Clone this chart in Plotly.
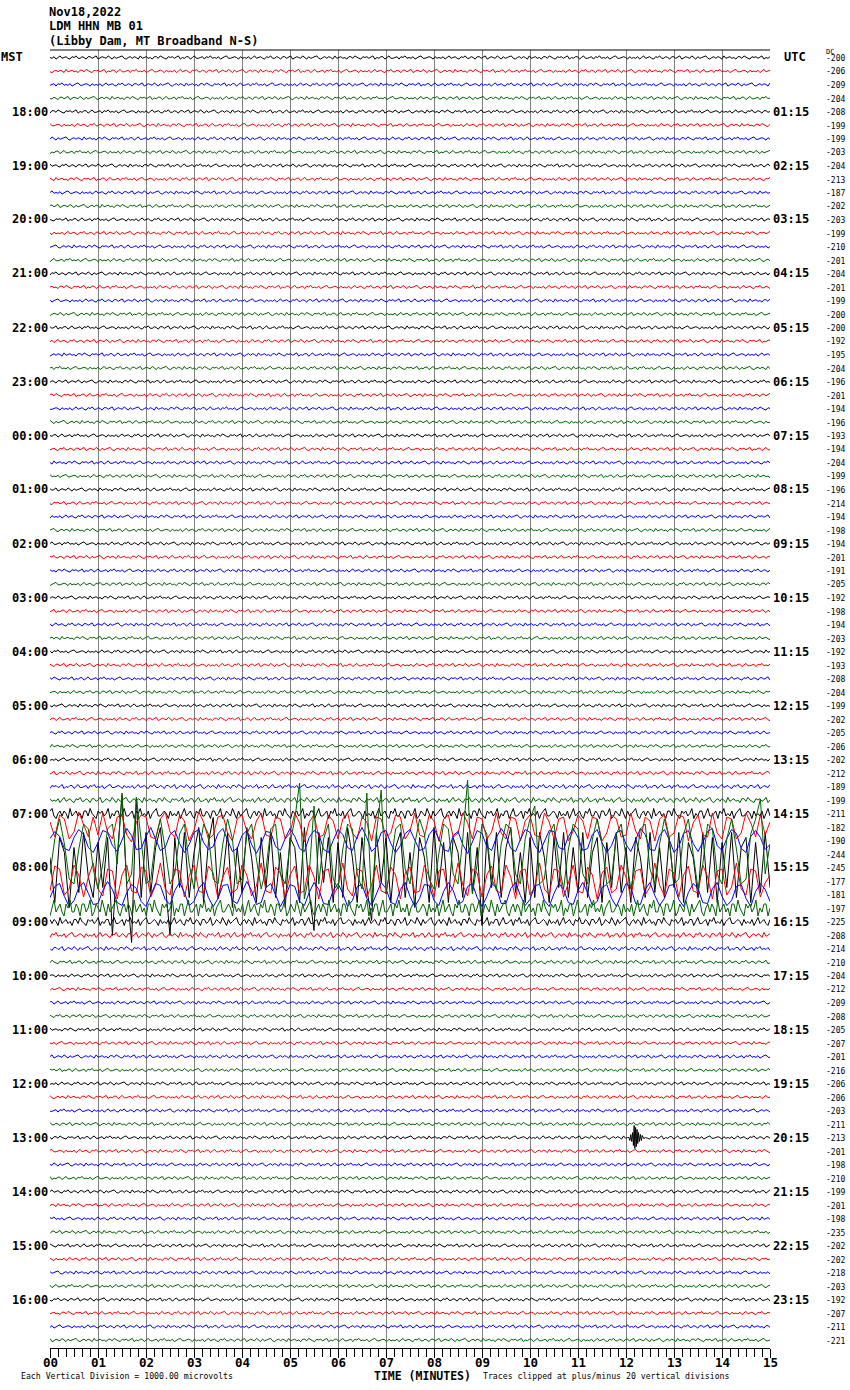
import plotly.graph_objects as go

DATE = "Nov18,2022"
STATION = "LDM HHN MB 01"
SITE = "(Libby Dam, MT Broadband N-S)"
MST_LABELS = ["18:00", "19:00", "20:00", "21:00", "22:00", "23:00", "00:00", "01:00",
              "02:00", "03:00", "04:00", "05:00", "06:00", "07:00", "08:00", "09:00",
              "10:00", "11:00", "12:00", "13:00", "14:00", "15:00", "16:00"]
UTC_LABELS = ["01:15", "02:15", "03:15", "04:15", "05:15", "06:15", "07:15", "08:15",
              "09:15", "10:15", "11:15", "12:15", "13:15", "14:15", "15:15", "16:15",
              "17:15", "18:15", "19:15", "20:15", "21:15", "22:15", "23:15"]
DC_OFFSETS = [-200, -206, -209, -204, -208, -199, -199, -203, -204, -213, -187, -202,
              -203, -199, -210, -201, -204, -201, -199, -200, -200, -192, -195, -204,
              -196, -201, -194, -196, -193, -194, -204, -199, -196, -214, -194, -198,
              -194, -201, -191, -205, -192, -198, -194, -203, -192, -193, -208, -204,
              -199, -202, -205, -206, -202, -212, -189, -199, -211, -182, -190, -244,
              -245, -177, -181, -197, -225, -208, -214, -210, -204, -212, -209, -208,
              -205, -207, -201, -216, -206, -206, -203, -211, -213, -201, -198, -210,
              -199, -201, -198, -235, -202, -202, -218, -203, -192, -207, -211, -221]
MINUTE_LABELS = ["00", "01", "02", "03", "04", "05", "06", "07", "08", "09", "10",
                 "11", "12", "13", "14", "15"]
TRACE_COLORS = ["#000000", "#ff0000", "#0000ff", "#006400"]

NOISE_PATTERN = [0, 1, -1, 2, 0, -2, 1, 0, -1, 1, 2, -1, 0, -2, 1, 1, -1, 0, 2, -1,
                 -1, 1, 0, -2, 2, 1, -1, 0, 1, -2, 0, 2, -1, 1, 0, -1, -2, 1, 2, 0,
                 -1, 1, -1, 0, 2, -2, 1, 0, -1, 1, 0, 2, -1, -1, 1, -2, 0, 1, 2, -1,
                 0, -1, 1, 0, -2, 2, 0, 1, -1, -1, 2, 0, -2, 1, 1, 0, -1, 2, -1, 0,
                 -2, 1, 0, 1, -1, 2, 0, -1, -2, 1, 1, 0, -1, 0, 2, -1, 1]
NOISE_SCALE = [0.8] * 52 + [0.8, 0.9, 1.0, 1.3, 2.5, 1.0, 1.0, 1.0,
                            1.0, 1.0, 1.0, 4.0, 2.0, 1.3, 1.0, 0.9] + [0.8] * 28

# teleseism (07:15 - 08:30 rows), one value every 0.1 minute, pixels, up positive
EVT_STEP = 0.1
EVT_RED_0715 = [5, -10, 12, 8, -12, -5, 15, 3, -10, 10,
                -8, 14, -5, -12, 10, 12, -8, -15, 5, 12,
                10, -10, -12, 8, 15, -5, -10, 12, 6, -14,
                -3, 15, 5, -12, -8, 10, 12, -6, -14, 8,
                12, -4, -12, 6, 14, -8, -10, 10, 8, -12,
                -6, 14, 4, -15, 5, 12, -10, -8, 12, 6,
                -12, 8, 14, -6, -12, 10, 5, -14, 10, 8,
                -10, -6, 12, 10, -12, -4, 14, -8, -10, 12,
                6, -14, 8, 12, -10, -6, 14, 4, -12, 10,
                8, -12, -5, 14, -6, -12, 10, 8, -14, 6,
                12, -8, -10, 14, 5, -12, 8, 10, -14, -4,
                12, 6, -12, 10, 8, -14, -6, 12, 8, -10,
                -8, 14, -4, -12, 10, 6, -14, 8, 12, -10,
                -6, 12, 10, -14, 4, 12, -8, -10, 14, -6,
                -12, 10, 8, -12, -6, 14, 4, -10, 12, -8, 5]
EVT_BLUE_0730 = [2, 9, 4, -8, -10, 3, 11, 6, -7, -12,
                 -2, 10, 8, -5, -11, 0, 12, 5, -9, -8,
                 4, 13, 2, -10, -7, 6, 10, -3, -12, -4,
                 8, 11, -2, -9, -6, 7, 12, 1, -11, -8,
                 5, 10, -4, -13, -3, 9, 8, -6, -10, 2,
                 12, 4, -8, -11, 3, 10, 7, -9, -12, 0,
                 11, 6, -7, -10, 4, 13, 3, -11, -6, 8,
                 10, -3, -12, -5, 7, 11, 0, -10, -8, 6,
                 12, 2, -9, -11, 5, 9, -4, -13, -2, 10,
                 7, -6, -10, 3, 12, 5, -8, -11, 1, 11,
                 8, -5, -12, -1, 10, 9, -7, -9, 4, 12,
                 3, -10, -8, 6, 11, -2, -12, -5, 8, 10,
                 -4, -11, 0, 12, 6, -9, -10, 5, 11, 1,
                 -12, -6, 7, 10, -3, -11, -2, 9, 12, -5,
                 -10, 2, 11, 7, -8, -12, 4, 10, 3, -9, -4]
EVT_GREEN_0745 = [-20, 15, 35, 10, -25, -30, 5, 30, 25, -15,
                  -35, -10, 25, 30, -10, 61, -30, -20, 57, 10,
                  -30, -25, 15, 35, 5, -30, -20, 20, 30, -10,
                  -35, 0, 30, 20, -25, -30, 10, 35, 15, -30,
                  -25, 20, 30, -5, -35, -15, 25, 30, -20, -30,
                  10, 35, 71, -45, -20, 48, -30, 15, 30, -25,
                  -35, 5, 30, 25, -20, -35, 61, -50, 20, 64,
                  -40, -10, 25, 30, -15, -30, 10, 35, 20, -25,
                  -35, 0, 30, 25, -20, -30, 15, 74, -40, -10,
                  30, 20, -25, -35, 10, 30, 25, -20, -30, 15,
                  35, 48, -30, -25, 20, 30, -10, -35, 5, 30,
                  25, -20, -30, 15, 35, 10, -30, -25, 20, 30,
                  -5, -35, -10, 25, 30, -15, -30, 10, 35, 15,
                  -30, -25, 20, 35, 0, -35, -10, 30, 25, -20,
                  -30, 15, 35, 5, -30, -25, 20, 35, 55, -20, 10]
EVT_BLACK_0800 = [10, -35, 30, 15, -40, 20, -25, 35, -10, -30,
                  25, -20, 30, -68, 10, 72, -20, -75, 70, -30,
                  35, -25, 20, 40, -15, -68, 30, -20, 35, -30,
                  15, 40, -35, 25, 50, -30, -10, 35, -40, 20,
                  -25, 40, 10, -35, 30, -20, 35, -30, 15, -40,
                  30, 20, -35, 40, -25, -63, 35, -15, 30, -35,
                  25, -30, 40, 10, -35, 30, -20, -53, 35, -15,
                  30, -35, 20, 35, -30, 15, -40, 30, 10, -35,
                  40, -20, 25, -35, 30, 15, -30, 35, -25, 20,
                  -58, 30, -20, 35, -30, 20, 40, -25, 15, -35,
                  30, -30, 35, 10, -35, 30, -20, 35, -30, 20,
                  -25, 35, -30, 15, 30, -35, 25, -20, 35, -25,
                  20, -35, 30, 10, -30, 35, -25, 20, -30, 30,
                  -20, 35, -35, 25, 10, -30, 35, -25, 30, -35,
                  25, -20, 35, -30, 20, 30, -35, 25, -25, 35, -20]
EVT_RED_0815 = [-10, 15, 12, -14, -8, 16, 6, -16, 4, 18,
                -8, -15, 12, 10, -18, 6, 16, -10, -12, 14,
                10, -16, -4, 18, -8, -14, 12, 10, -16, 5,
                16, -10, -12, 15, 8, -18, 4, 14, -12, -8,
                16, 6, -15, -5, 18, -10, -12, 14, 8, -16,
                6, 15, -12, -10, 16, 4, -18, 10, 12, -14,
                -6, 18, -8, -15, 12, 10, -16, -4, 16, -10,
                -12, 14, 6, -18, 8, 14, -12, -10, 16, 4,
                -16, 10, 12, -14, -6, 18, -4, -15, 12, 8,
                -16, 6, 15, -10, -12, 16, 4, -18, 10, 12,
                -14, -6, 18, -8, -14, 12, 10, -16, -2, 16,
                -10, -12, 14, 6, -18, 8, 14, -12, -8, 16,
                4, -16, 10, 12, -14, -6, 18, -4, -15, 12,
                8, -16, 6, 15, -10, -12, 16, 4, -18, 10,
                12, -14, -6, 18, -8, -14, 12, 10, -16, -2, 6]
EVT_BLUE_0830 = [-3, 8, 11, -2, -12, -6, 7, 12, 1, -10,
                 -9, 4, 13, 5, -8, -11, 2, 10, 6, -7,
                 -12, -1, 11, 9, -5, -10, 4, 12, 2, -11,
                 -7, 6, 12, -3, -12, -4, 9, 10, -6, -9,
                 3, 13, 4, -10, -8, 7, 11, -1, -12, -3,
                 10, 8, -7, -11, 2, 12, 5, -9, -10, 4,
                 11, 1, -12, -6, 8, 10, -4, -11, 0, 12,
                 6, -8, -10, 5, 12, -2, -12, -4, 10, 9,
                 -6, -11, 3, 12, 4, -10, -7, 8, 11, -3,
                 -12, -2, 11, 7, -9, -9, 6, 12, -1, -11,
                 -5, 9, 10, -6, -12, 1, 11, 5, -8, -10,
                 4, 12, 2, -11, -7, 7, 10, -4, -12, 0,
                 11, 7, -9, -10, 5, 12, -1, -11, -4, 9,
                 10, -5, -12, 2, 11, 6, -8, -9, 6, 12,
                 -2, -11, -6, 8, 10, -4, -12, 3, 11, 5, -7]
EVENT_ROWS = {57: EVT_RED_0715, 58: EVT_BLUE_0730, 59: EVT_GREEN_0745,
              60: EVT_BLACK_0800, 61: EVT_RED_0815, 62: EVT_BLUE_0830}

# local earthquake on the 13:00 trace (minutes, pixel offsets)
QUAKE_TRACE = 80
QUAKE_T = [12.06, 12.08, 12.10, 12.12, 12.14, 12.155, 12.17, 12.185, 12.20, 12.215,
           12.23, 12.245, 12.26, 12.28, 12.30, 12.32, 12.34, 12.37, 12.40]
QUAKE_Y = [0, 3, -3, 4, -5, 8, -12, 11, -10, 9, -8, 6, -5, 4, -3, 3, -2, 1, 0]

N_TRACES = 96
N_SAMPLES = 360
ROW_H = 13.5

W, H = 850, 1390
PL, PR, PT, PB = 50, 770, 50, 1348          # plot box in page pixels
L, R, T, B = PL, W - PR, PT, H - PB
pw, ph = W - L - R, H - T - B
ROW0 = 57.5 - PT

fig = go.Figure()

xs_all = [k * 15.0 / (N_SAMPLES - 1) for k in range(N_SAMPLES)]
for c in range(4):
    xs, ys = [], []
    for i in range(c, N_TRACES, 4):
        yc = ROW0 + ROW_H * i
        if i in EVENT_ROWS:
            vals = EVENT_ROWS[i]
            tx = [k * EVT_STEP for k in range(len(vals))]
            ty = [yc - v for v in vals]
        else:
            sh = (i * 37) % len(NOISE_PATTERN)
            tx, ty = [], []
            for k in range(N_SAMPLES):
                tx.append(xs_all[k])
                ty.append(yc + NOISE_SCALE[i] * NOISE_PATTERN[(k + sh) % len(NOISE_PATTERN)])
        if i == QUAKE_TRACE:
            keep = [(a, b) for a, b in zip(tx, ty) if a < QUAKE_T[0] or a > QUAKE_T[-1]]
            keep += [(a, yc + b) for a, b in zip(QUAKE_T, QUAKE_Y)]
            keep.sort()
            tx = [a for a, _ in keep]
            ty = [b for _, b in keep]
        xs += tx + [None]
        ys += ty + [None]
    fig.add_trace(go.Scatter(x=xs, y=ys, mode="lines",
                             line=dict(color=TRACE_COLORS[c], width=1),
                             hoverinfo="skip", showlegend=False))

mono = "DejaVu Sans Mono"
layout_ann = []


def px(xp, yp):
    # page pixel -> paper coords
    return (xp - PL) / pw, 1 - (yp - PT) / ph


def add_text(xp, yp, text, size, bold=True, anchor="left", color="#000"):
    x, y = px(xp, yp)
    layout_ann.append(dict(x=x, y=y, xref="paper", yref="paper",
                           text=("<b>%s</b>" % text) if bold else text,
                           showarrow=False, xanchor=anchor, yanchor="middle",
                           borderpad=0,
                           font=dict(family=mono, size=size, color=color)))


for j, t in enumerate([DATE, STATION, SITE]):
    add_text(48, 12 + 14.5 * j, t, 12)
add_text(0, 57, "MST", 12)
add_text(783, 57, "UTC", 12)
add_text(825, 52, "DC", 7, bold=False)
for j, t in enumerate(MST_LABELS):
    add_text(49, PT + ROW0 + ROW_H * 4 * (j + 1), t, 12, anchor="right")
for j, t in enumerate(UTC_LABELS):
    add_text(772, PT + ROW0 + ROW_H * 4 * (j + 1), t, 12)
for i, v in enumerate(DC_OFFSETS):
    add_text(846, PT + ROW0 + ROW_H * i + 1, str(v), 8, bold=False, anchor="right")
for m, t in enumerate(MINUTE_LABELS):
    add_text(PL + 48 * m, 1362, t, 12.5, anchor="center")
add_text(422, 1376, "TIME (MINUTES)", 11.5, anchor="center")
add_text(20, 1376, "Each Vertical Division = 1000.00 microvolts", 8.2, bold=False)
add_text(482, 1376, "Traces clipped at plus/minus 20 vertical divisions", 8.2, bold=False)

fig.update_layout(
    width=W, height=H, margin=dict(l=L, r=R, t=T, b=B, pad=0),
    paper_bgcolor="white", plot_bgcolor="white",
    annotations=layout_ann,
    shapes=[dict(type="line", xref="paper", yref="paper", x0=0, x1=1, y0=1, y1=1,
                 line=dict(color="black", width=1))],
    xaxis=dict(range=[0, 15], tickmode="array", tickvals=list(range(16)),
               showticklabels=False,
               showgrid=True, gridcolor="#808080", gridwidth=1,
               showline=True, linecolor="black", linewidth=1,
               ticks="outside", ticklen=9, tickcolor="black",
               minor=dict(dtick=1 / 6.0, ticks="outside", ticklen=8, tickcolor="black",
                          showgrid=False),
               zeroline=False),
    yaxis=dict(range=[ph, 0], showgrid=False, showticklabels=False, zeroline=False,
               showline=False),
)
fig.write_html("out.html", config={"displayModeBar": False},
               post_script="document.body.style.margin='0px';"
                           "document.body.style.overflow='hidden';")
